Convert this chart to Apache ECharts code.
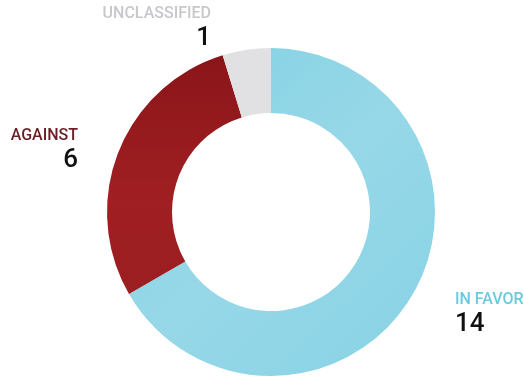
<!DOCTYPE html>
<html>
<head>
<meta charset="utf-8">
<script src="https://cdn.jsdelivr.net/npm/echarts@6/dist/echarts.min.js"></script>
<style>html,body{margin:0;padding:0;background:#fff;}#c{width:524px;height:378px;}</style>
</head>
<body>
<div id="c"></div>
<script>
const categories = ["IN FAVOR", "AGAINST", "UNCLASSIFIED"];
const values = [14, 6, 1];

const sliceColors = [
  new echarts.graphic.LinearGradient(0, 0, 1, 1, [
    {offset: 0, color: '#7fd0e3'}, {offset: 0.5, color: '#97d8e8'}, {offset: 1, color: '#86d2e5'}]),
  new echarts.graphic.LinearGradient(0, 0, 0, 1, [
    {offset: 0, color: '#8a1519'}, {offset: 0.6, color: '#a01f22'}, {offset: 1, color: '#9b1e20'}]),
  '#e1e1e3'
];
const nameColors = ['#6ccadf', '#6b1d24', '#c8c8cc'];
const labelPos = [
  {x: 455, y: 290, align: 'left'},
  {x: 78, y: 126, align: 'right'},
  {x: 211, y: 4, align: 'right'}
];

const chart = echarts.init(document.getElementById('c'), null, {renderer: 'canvas'});
chart.setOption({
  animation: false,
  series: [{
    type: 'pie',
    center: [271, 212],
    radius: [99, 164],
    startAngle: 90,
    clockwise: true,
    silent: true,
    data: categories.map((n, i) => ({
      name: n, value: values[i],
      itemStyle: {color: sliceColors[i]},
      label: {
        align: labelPos[i].align,
        rich: {
          n: {fontFamily: 'Roboto', fontWeight: 500, fontSize: 16, lineHeight: 20, color: nameColors[i], align: labelPos[i].align},
          v: {fontFamily: 'Roboto', fontWeight: 500, fontSize: 26, lineHeight: 29, color: '#111', align: labelPos[i].align}
        }
      }
    })),
    label: {
      show: true,
      position: 'outside',
      overflow: 'none',
      bleedMargin: 0,
      formatter: p => '{n|' + p.name + '}\n{v|' + p.value + '}'
    },
    labelLine: {show: false},
    labelLayout: function (params) {
      const p = labelPos[params.dataIndex];
      return {x: p.x, y: p.y, align: p.align, verticalAlign: 'top'};
    }
  }]
});
</script>
</body>
</html>
